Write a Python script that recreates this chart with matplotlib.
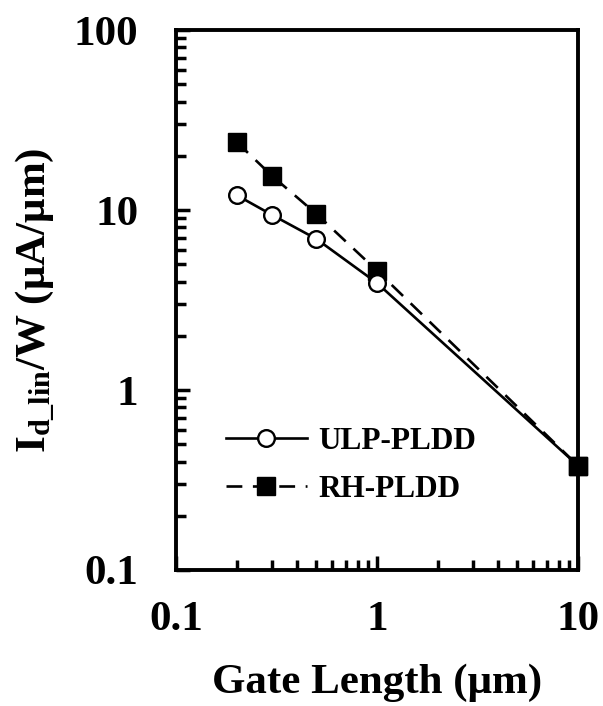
import numpy as np
import matplotlib.pyplot as plt
from matplotlib.ticker import FixedLocator, FixedFormatter, LogLocator, NullFormatter

plt.rcParams['font.family'] = ['Liberation Serif', 'DejaVu Serif']
plt.rcParams['font.weight'] = 'bold'
plt.rcParams['mathtext.fontset'] = 'custom'
plt.rcParams['mathtext.rm'] = 'Liberation Serif:bold'
plt.rcParams['mathtext.bf'] = 'Liberation Serif:bold'
plt.rcParams['mathtext.it'] = 'Liberation Serif:bold'

# data
gate_length = [0.2, 0.3, 0.5, 1.0, 10.0]
ulp_pldd = [12.1, 9.4, 6.9, 3.93, 0.38]
rh_pldd = [23.9, 15.5, 9.5, 4.6, 0.38]

x_ticks = [0.1, 1, 10]
x_tick_labels = ['0.1', '1', '10']
y_ticks = [0.1, 1, 10, 100]
y_tick_labels = ['0.1', '1', '10', '100']

fig = plt.figure(figsize=(6.03, 7.06), dpi=100)
ax = fig.add_axes([176/603, 1-570/706, 402/603, 540/706])

ax.plot(gate_length, ulp_pldd, '-', color='black', lw=1.9,
        marker='o', ms=12, mfc='white', mec='black', mew=1.7, label='ULP-PLDD',
        zorder=3, clip_on=False)
ax.plot(gate_length, rh_pldd, color='black', lw=1.9, dashes=(6, 4),
        marker='s', ms=13, mfc='black', mec='black', label='RH-PLDD',
        zorder=2, clip_on=False)
# at the last point the square sits on top of the circle
ax.plot(gate_length[-1:], rh_pldd[-1:], ls='none', marker='s', ms=13,
        mfc='black', mec='black', zorder=4, clip_on=False)

ax.set_xscale('log')
ax.set_yscale('log')
ax.set_xlim(0.1, 10)
ax.set_ylim(0.1, 100)

ax.xaxis.set_major_locator(FixedLocator(x_ticks))
ax.xaxis.set_major_formatter(FixedFormatter(x_tick_labels))
ax.yaxis.set_major_locator(FixedLocator(y_ticks))
ax.yaxis.set_major_formatter(FixedFormatter(y_tick_labels))
ax.xaxis.set_minor_locator(LogLocator(base=10, subs=np.arange(2, 10)))
ax.yaxis.set_minor_locator(LogLocator(base=10, subs=np.arange(2, 10)))
ax.xaxis.set_minor_formatter(NullFormatter())
ax.yaxis.set_minor_formatter(NullFormatter())

ax.tick_params(which='both', direction='in', top=False, right=False, width=2.5)
ax.tick_params(which='major', length=10)
ax.tick_params(which='minor', length=7)
ax.tick_params(axis='y', which='major', labelsize=31, pad=27)
ax.tick_params(axis='x', which='major', labelsize=31, pad=22)
for s in ax.spines.values():
    s.set_linewidth(2.8)

ax.set_xlabel('Gate Length (μm)', fontsize=31, fontweight='bold', labelpad=18)
ax.set_ylabel(r'$\mathbf{I_{d\_lin}}$/W (μA/μm)', fontsize=31, fontweight='bold', labelpad=12)

leg = ax.legend(loc='center left', bbox_to_anchor=(0.124, 0.193), frameon=False,
                fontsize=22.5, handlelength=2.6, handletextpad=0.35, labelspacing=0.6,
                borderpad=0, borderaxespad=0, numpoints=1)

fig.savefig('out.png', dpi=100)
